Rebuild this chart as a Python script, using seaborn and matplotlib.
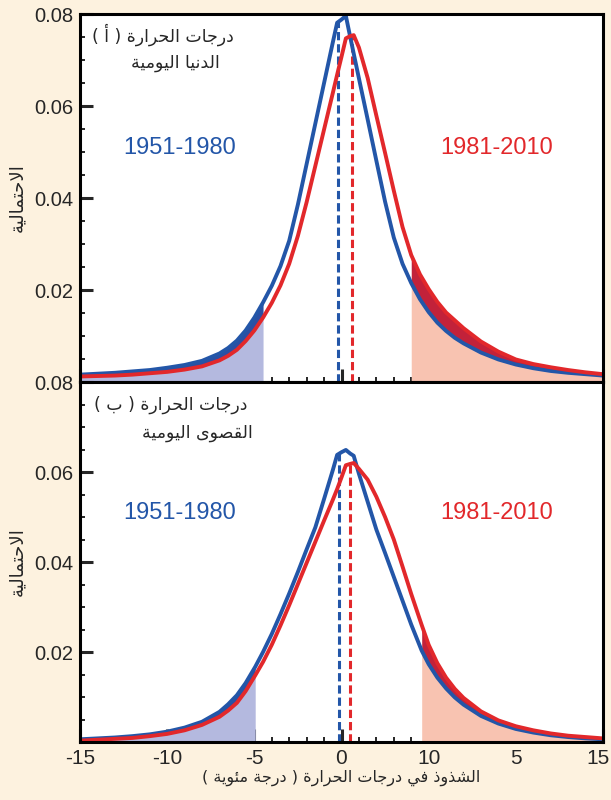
import numpy as np
import pandas as pd
import matplotlib
matplotlib.use("Agg")
import matplotlib.pyplot as plt
from matplotlib.transforms import ScaledTranslation
import seaborn as sns

# ---- data ----
periods = ["1951-1980", "1981-2010"]

# (a) daily minimum temperature
x_min = [-15, -14, -13, -12, -11, -10, -9, -8, -7, -6.5, -6, -5.5, -5, -4.5, -4,
         -3.5, -3, -2.5, -2, -1.5, -1, -0.5, -0.25, 0, 0.25, 0.5, 0.7, 1, 1.5, 2,
         2.5, 3, 3.5, 4, 4.5, 5, 5.5, 6, 6.5, 7, 8, 9, 10, 11, 12, 13, 14, 15]
blue_min = [0.0016, 0.0018, 0.0020, 0.0023, 0.0026, 0.0031, 0.0037, 0.0046, 0.0062,
            0.0074, 0.0090, 0.0112, 0.0140, 0.0173, 0.0209, 0.0252, 0.0307, 0.0386,
            0.0474, 0.0562, 0.0650, 0.0738, 0.0781, 0.0788, 0.0796, 0.0750, 0.0714,
            0.0660, 0.0571, 0.0481, 0.0392, 0.0314, 0.0257, 0.0215, 0.0180, 0.0152,
            0.0129, 0.0111, 0.0096, 0.0084, 0.0064, 0.0049, 0.0038, 0.0030, 0.0024,
            0.0020, 0.0017, 0.0014]
red_min = [0.0012, 0.0013, 0.0014, 0.0016, 0.0019, 0.0022, 0.0027, 0.0034, 0.0047,
           0.0057, 0.0070, 0.0089, 0.0112, 0.0140, 0.0172, 0.0210, 0.0257, 0.0318,
           0.0391, 0.0470, 0.0549, 0.0628, 0.0668, 0.0707, 0.0747, 0.0752, 0.0754,
           0.0727, 0.0661, 0.0579, 0.0498, 0.0416, 0.0337, 0.0276, 0.0234, 0.0202,
           0.0174, 0.0151, 0.0134, 0.0117, 0.0088, 0.0066, 0.0049, 0.0039, 0.0032,
           0.0026, 0.0021, 0.0017]
means_min = [-0.22, 0.6]
cuts_min = [-4.5, 4.0]

# (b) daily maximum temperature
x_max = [-15, -14, -13, -12, -11, -10, -9, -8, -7, -6.5, -6, -5.5, -4.95, -4.5, -4,
         -3.5, -3, -2.5, -2, -1.5, -1, -0.5, -0.25, 0, 0.25, 0.5, 0.7, 1, 1.5, 2,
         2.5, 3, 3.5, 4, 4.6, 5, 5.5, 6, 6.5, 7, 8, 9, 10, 11, 12, 13, 14, 15]
blue_max = [0.0006, 0.0008, 0.0010, 0.0013, 0.0017, 0.0023, 0.0032, 0.0045, 0.0067,
            0.0084, 0.0104, 0.0131, 0.0167, 0.0200, 0.0240, 0.0284, 0.0330, 0.0378,
            0.0428, 0.0477, 0.0540, 0.0604, 0.0638, 0.0644, 0.0649, 0.0641, 0.0636,
            0.0596, 0.0534, 0.0472, 0.0420, 0.0367, 0.0314, 0.0261, 0.0203, 0.0173,
            0.0143, 0.0119, 0.0099, 0.0083, 0.0058, 0.0041, 0.0029, 0.0021, 0.0015,
            0.0011, 0.0008, 0.0006]
red_max = [0.0003, 0.0005, 0.0007, 0.0009, 0.0013, 0.0018, 0.0026, 0.0038, 0.0056,
           0.0070, 0.0087, 0.0113, 0.0148, 0.0178, 0.0216, 0.0259, 0.0304, 0.0351,
           0.0398, 0.0445, 0.0492, 0.0538, 0.0562, 0.0588, 0.0615, 0.0618, 0.0620,
           0.0607, 0.0583, 0.0545, 0.0500, 0.0450, 0.0390, 0.0329, 0.0260, 0.0216,
           0.0175, 0.0143, 0.0118, 0.0098, 0.0068, 0.0048, 0.0035, 0.0026, 0.0019,
           0.0014, 0.0011, 0.0008]
means_max = [-0.12, 0.49]
cuts_max = [-4.95, 4.6]

x_ticks = [-15, -10, -5, 0, 5, 10, 15]
x_ticklabels = ["-15", "-10", "-5", "0", "10", "5", "15"]
y_ticks = [0.02, 0.04, 0.06, 0.08]
y_ticklabels = ["0.02", "0.04", "0.06", "0.08"]

title_min = ["درجات الحرارة ( أ )", "الدنيا اليومية"]
title_max = ["درجات الحرارة ( ب )", "القصوى اليومية"]
ylabel = "الاحتمالية"
xlabel = "الشذوذ في درجات الحرارة ( درجة مئوية )"

BG = "#fdf2df"
BLUE = "#2356a8"
RED = "#e2282b"
LAV = "#b4b9df"
DBLUE = "#2c4fa3"
SALMON = "#f8c3b1"
DRED = "#c2223a"


# matplotlib has no arabic shaping, so do it by hand (presentation forms + RTL)
FORMS = {
    "ا": "\uFE8D\uFE8E", "أ": "\uFE83\uFE84", "د": "\uFEA9\uFEAA", "ذ": "\uFEAB\uFEAC",
    "ر": "\uFEAD\uFEAE", "و": "\uFEED\uFEEE", "ة": "\uFE93\uFE94", "ى": "\uFEEF\uFEF0",
    "ب": "\uFE8F\uFE90\uFE91\uFE92", "ت": "\uFE95\uFE96\uFE97\uFE98",
    "ج": "\uFE9D\uFE9E\uFE9F\uFEA0", "ح": "\uFEA1\uFEA2\uFEA3\uFEA4",
    "ش": "\uFEB5\uFEB6\uFEB7\uFEB8", "ص": "\uFEB9\uFEBA\uFEBB\uFEBC",
    "ف": "\uFED1\uFED2\uFED3\uFED4", "ق": "\uFED5\uFED6\uFED7\uFED8",
    "ل": "\uFEDD\uFEDE\uFEDF\uFEE0", "م": "\uFEE1\uFEE2\uFEE3\uFEE4",
    "ن": "\uFEE5\uFEE6\uFEE7\uFEE8", "ي": "\uFEF1\uFEF2\uFEF3\uFEF4",
    "ئ": "\uFE89\uFE8A\uFE8B\uFE8C",
    "LA": "\uFEFB\uFEFC", "LAH": "\uFEF7\uFEF8",
}


def shape(text):
    toks = []
    i = 0
    while i < len(text):
        ch = text[i]
        if ch == "ل" and i + 1 < len(text) and text[i + 1] in "اأ":
            toks.append("LA" if text[i + 1] == "ا" else "LAH")
            i += 2
            continue
        toks.append(ch)
        i += 1
    out = []
    for k, t in enumerate(toks):
        if t not in FORMS:
            out.append(t)
            continue
        f = FORMS[t]
        prev = toks[k - 1] if k > 0 else None
        nxt = toks[k + 1] if k + 1 < len(toks) else None
        jp = prev in FORMS and len(FORMS[prev]) == 4
        jn = len(f) == 4 and nxt in FORMS
        if len(f) == 2:
            out.append(f[1] if jp else f[0])
        else:
            out.append(f[3] if (jp and jn) else f[1] if jp else f[2] if jn else f[0])
    vis = "".join(out)[::-1]
    return vis.translate(str.maketrans("()", ")("))


sns.set_style("ticks")
plt.rcParams["font.family"] = ["Liberation Sans", "DejaVu Sans"]
AR = ["DejaVu Sans"]

fig = plt.figure(figsize=(6.11, 8), dpi=100, facecolor=BG)
ax_top = fig.add_axes([80 / 611, 1 - 382 / 800, 523 / 611, 368 / 800])
ax_bot = fig.add_axes([80 / 611, 1 - 742 / 800, 523 / 611, 360 / 800])


def draw_panel(ax, x, blue, red, means, cuts):
    x = np.array(x)
    b = np.array(blue)
    r = np.array(red)
    lo = np.minimum(b, r)
    hi = np.maximum(b, r)
    left = x <= cuts[0]
    right = x >= cuts[1]
    ax.fill_between(x[left], 0, lo[left], color=LAV, lw=0, zorder=1)
    ax.fill_between(x[left], lo[left], hi[left], color=DBLUE, lw=0, zorder=1)
    ax.fill_between(x[right], 0, lo[right], color=SALMON, lw=0, zorder=1)
    ax.fill_between(x[right], lo[right], hi[right], color=DRED, lw=0, zorder=1)

    df = pd.DataFrame({
        "x": np.concatenate([x, x]),
        "p": np.concatenate([b, r]),
        "period": [periods[0]] * len(x) + [periods[1]] * len(x),
    })
    sns.lineplot(data=df, x="x", y="p", hue="period", palette=[BLUE, RED],
                 lw=2.8, legend=False, ax=ax, zorder=3)

    for m, ys, col in zip(means, [b, r], [BLUE, RED]):
        ax.vlines(m, 0, np.interp(m, x, ys), colors=col, lw=2.2,
                  linestyles=(0, (2.7, 1.3)), zorder=2)

    ax.set_xlim(-15, 15)
    ax.set_ylim(0, 0.08)
    ax.set_xticks(x_ticks)
    ax.set_xticks(np.arange(-15, 16, 1), minor=True)
    ax.set_yticks(y_ticks)
    ax.set_yticks(np.arange(0, 0.0801, 0.005), minor=True)
    ax.set_yticklabels(y_ticklabels, fontsize=14.5)
    ax.tick_params(which="major", direction="in", length=9.5, width=2.2,
                   top=False, right=False, pad=5)
    ax.tick_params(which="minor", direction="in", length=3.8, width=1.4,
                   top=False, right=False)
    for s in ax.spines.values():
        s.set_linewidth(2.2)
        s.set_color("black")
        s.set_zorder(5)
    ax.set_xlabel("")
    ax.set_ylabel("")
    ax.set_facecolor("white")

    ax.text(0.191, 0.635, periods[0], color=BLUE, fontsize=17,
            ha="center", va="center", transform=ax.transAxes)
    ax.text(0.797, 0.635, periods[1], color=RED, fontsize=17,
            ha="center", va="center", transform=ax.transAxes)
    return ax


draw_panel(ax_top, x_min, blue_min, red_min, means_min, cuts_min)
draw_panel(ax_bot, x_max, blue_max, red_max, means_max, cuts_max)

ax_top.set_xticklabels([])
ax_bot.set_xticklabels(x_ticklabels, fontsize=15)
# last label sits right at the figure edge, nudge it in a little
last = ax_bot.get_xticklabels()[-1]
last.set_transform(last.get_transform() + ScaledTranslation(-5 / 100, 0, fig.dpi_scale_trans))

ax_top.text(0.159, 0.943, shape(title_min[0]), family=AR, fontsize=12.5,
            ha="center", va="center", transform=ax_top.transAxes)
ax_top.text(0.182, 0.867, shape(title_min[1]), family=AR, fontsize=12.5,
            ha="center", va="center", transform=ax_top.transAxes)
ax_bot.text(0.174, 0.936, shape(title_max[0]), family=AR, fontsize=12.5,
            ha="center", va="center", transform=ax_bot.transAxes)
ax_bot.text(0.224, 0.858, shape(title_max[1]), family=AR, fontsize=12.5,
            ha="center", va="center", transform=ax_bot.transAxes)

fig.text(0.028, 0.7525, shape(ylabel), family=AR, fontsize=13, rotation=90,
         ha="center", va="center")
fig.text(0.028, 0.2975, shape(ylabel), family=AR, fontsize=13, rotation=90,
         ha="center", va="center")
fig.text(0.558, 0.0275, shape(xlabel), family=AR, fontsize=11.5,
         ha="center", va="center")

fig.savefig("out.png", dpi=100, facecolor=BG)
